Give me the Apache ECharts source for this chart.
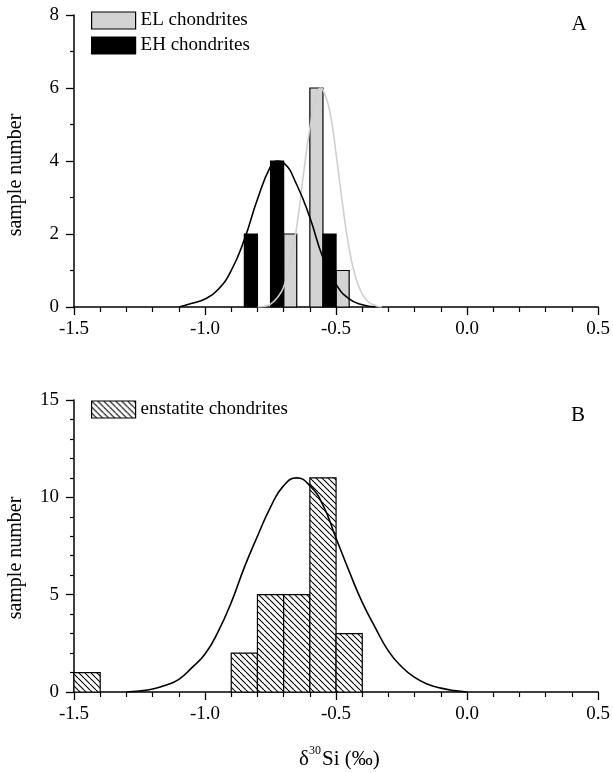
<!DOCTYPE html>
<html>
<head>
<meta charset="utf-8">
<script src="https://cdn.jsdelivr.net/npm/echarts@6/dist/echarts.min.js"></script>
<style>html,body{margin:0;padding:0;background:#fff}#c{width:613px;height:773px}</style>
</head>
<body>
<div id="c"></div>
<script>
// ---- Data ----
const xTicks = [-1.5, -1.0, -0.5, 0.0, 0.5];
// Panel A: EL chondrites histogram (grey)
const elBinStart = [-0.70, -0.60, -0.50];
const elBinEnd   = [-0.65, -0.55, -0.45];
const elCounts   = [2, 6, 1];
// Panel A: EH chondrites histogram (black)
const ehBinStart = [-0.85, -0.75, -0.55];
const ehBinEnd   = [-0.80, -0.70, -0.50];
const ehCounts   = [2, 4, 2];
// Panel A fitted curves
const ehCurveX = [-1.10, -1.05, -1.00, -0.95, -0.90, -0.85, -0.80, -0.75, -0.725, -0.70, -0.65, -0.60, -0.55, -0.50, -0.45, -0.40, -0.35];
const ehCurveY = [0.00, 0.10, 0.22, 0.48, 1.00, 1.85, 2.95, 3.85, 4.00, 3.95, 3.35, 2.45, 1.35, 0.62, 0.22, 0.06, 0.00];
const elCurveX = [-0.80, -0.775, -0.75, -0.725, -0.70, -0.675, -0.65, -0.625, -0.60, -0.575, -0.56, -0.55, -0.525, -0.50, -0.475, -0.45, -0.425, -0.40, -0.375, -0.35, -0.325];
const elCurveY = [0.00, 0.02, 0.08, 0.25, 0.55, 1.20, 2.20, 3.60, 4.90, 5.80, 6.00, 5.95, 5.40, 4.20, 2.80, 1.60, 0.80, 0.35, 0.13, 0.04, 0.00];
// Panel B: enstatite chondrites histogram (hatched)
const ecBinStart = [-1.5, -0.9, -0.8, -0.7, -0.6, -0.5];
const ecBinEnd   = [-1.4, -0.8, -0.7, -0.6, -0.5, -0.4];
const ecCounts   = [1, 2, 5, 5, 11, 3];
const ecCurveX = [-1.30, -1.25, -1.20, -1.15, -1.10, -1.05, -1.00, -0.95, -0.90, -0.85, -0.80, -0.75, -0.70, -0.65, -0.60, -0.55, -0.50, -0.45, -0.40, -0.35, -0.30, -0.25, -0.20, -0.15, -0.10, -0.05, 0.00];
const ecCurveY = [0.00, 0.05, 0.15, 0.35, 0.65, 1.25, 1.95, 3.10, 4.60, 6.40, 8.00, 9.50, 10.60, 11.00, 10.60, 9.60, 7.90, 6.20, 4.60, 3.30, 2.10, 1.30, 0.75, 0.40, 0.20, 0.07, 0.00];

// ---- helpers ----
function bins(s, e, c) { return s.map((v, i) => [v, e[i], c[i]]); }
function pts(xs, ys) { return xs.map((v, i) => [v, ys[i]]); }

function hatch() {
  const s = 6;
  const cv = document.createElement('canvas');
  cv.width = s; cv.height = s;
  const ctx = cv.getContext('2d');
  ctx.fillStyle = '#fff'; ctx.fillRect(0, 0, s, s);
  ctx.strokeStyle = '#000'; ctx.lineWidth = 1.1;
  for (const k of [-1, 0, 1]) {
    ctx.beginPath(); ctx.moveTo(k * s, 0); ctx.lineTo(k * s + s, s); ctx.stroke();
  }
  return { image: cv, repeat: 'repeat' };
}
const hatchFill = hatch();

function barRenderer(fill) {
  return function (params, api) {
    const p0 = api.coord([api.value(0), 0]);
    const p1 = api.coord([api.value(1), api.value(2)]);
    return {
      type: 'rect',
      shape: { x: p0[0], y: p1[1], width: p1[0] - p0[0], height: p0[1] - p1[1] },
      style: { fill: fill, stroke: '#000', lineWidth: 1.2 }
    };
  };
}

const FONT = 'Liberation Serif';
const axisLine = { show: true, onZero: false, lineStyle: { color: '#000', width: 1.5 } };

function xAxisCfg(gi) {
  return {
    type: 'value', gridIndex: gi, min: -1.5, max: 0.5, interval: 0.5,
    axisLine: axisLine,
    axisTick: { show: true, length: 8, lineStyle: { color: '#000', width: 1.3 } },
    minorTick: { show: true, splitNumber: 5, length: 5, lineStyle: { color: '#000', width: 1.2 } },
    splitLine: { show: false },
    axisLabel: { color: '#000', fontFamily: FONT, fontSize: 19, margin: 13,
      formatter: v => (xTicks.indexOf(Math.round(v * 10) / 10) >= 0 ? v.toFixed(1) : '') }
  };
}
function yAxisCfg(gi, max, interval, minorSplit) {
  return {
    type: 'value', gridIndex: gi, min: 0, max: max, interval: interval,
    axisLine: axisLine,
    axisTick: { show: true, length: 8, lineStyle: { color: '#000', width: 1.3 } },
    minorTick: { show: true, splitNumber: minorSplit, length: 4, lineStyle: { color: '#000', width: 1.2 } },
    splitLine: { show: false },
    axisLabel: { color: '#000', fontFamily: FONT, fontSize: 19, margin: 15 }
  };
}

const titleFont = '21px "Liberation Serif"';
const chart = echarts.init(document.getElementById('c'), null, { renderer: 'canvas' });
chart.setOption({
  backgroundColor: '#fff',
  animation: false,
  grid: [
    { left: 74, right: 12, top: 15, height: 292 },
    { left: 74, right: 12, top: 400, height: 292 }
  ],
  xAxis: [xAxisCfg(0), xAxisCfg(1)],
  yAxis: [yAxisCfg(0, 8, 2, 2), yAxisCfg(1, 15, 5, 5)],
  legend: [
    { data: ['EL chondrites', 'EH chondrites'], orient: 'vertical', left: 91, top: 11,
      itemWidth: 44, itemHeight: 17, itemGap: 6, icon: 'rect', padding: 0,
      itemStyle: { borderColor: '#000', borderWidth: 1.2 },
      textStyle: { color: '#000', fontFamily: FONT, fontSize: 19 } },
    { data: ['enstatite chondrites'], orient: 'vertical', left: 91, top: 400,
      itemWidth: 44, itemHeight: 17, icon: 'rect', padding: 0,
      itemStyle: { borderColor: '#000', borderWidth: 1.2 },
      textStyle: { color: '#000', fontFamily: FONT, fontSize: 19 } }
  ],
  graphic: [
    { type: 'text', x: 579, y: 24, style: { text: 'A', font: titleFont, fill: '#000', align: 'center', verticalAlign: 'middle' } },
    { type: 'text', x: 578, y: 415, style: { text: 'B', font: titleFont, fill: '#000', align: 'center', verticalAlign: 'middle' } },
    { type: 'text', x: 16, y: 175, rotation: Math.PI / 2, style: { text: 'sample number', font: '20px "Liberation Serif"', fill: '#000', align: 'center', verticalAlign: 'middle' } },
    { type: 'text', x: 16, y: 558, rotation: Math.PI / 2, style: { text: 'sample number', font: '20px "Liberation Serif"', fill: '#000', align: 'center', verticalAlign: 'middle' } },
    { type: 'text', x: 309, y: 759, style: { text: 'δ', font: titleFont, fill: '#000', align: 'right', verticalAlign: 'middle' } },
    { type: 'text', x: 309, y: 751, style: { text: '30', font: '12px "Liberation Serif"', fill: '#000', align: 'left', verticalAlign: 'middle' } },
    { type: 'text', x: 322, y: 759, style: { text: 'Si (‰)', font: titleFont, fill: '#000', align: 'left', verticalAlign: 'middle' } }
  ],
  series: [
    { name: 'EL chondrites', type: 'custom', xAxisIndex: 0, yAxisIndex: 0,
      renderItem: barRenderer('#d3d3d3'), encode: { x: [0, 1], y: 2 },
      itemStyle: { color: '#d3d3d3', borderColor: '#000', borderWidth: 1.2 },
      data: bins(elBinStart, elBinEnd, elCounts), z: 2 },
    { name: 'EH chondrites', type: 'custom', xAxisIndex: 0, yAxisIndex: 0,
      renderItem: barRenderer('#000'), encode: { x: [0, 1], y: 2 },
      itemStyle: { color: '#000', borderColor: '#000', borderWidth: 1.2 },
      data: bins(ehBinStart, ehBinEnd, ehCounts), z: 2 },
    { name: 'EL fit', type: 'line', xAxisIndex: 0, yAxisIndex: 0, smooth: 0.5, showSymbol: false,
      lineStyle: { color: '#cfcfcf', width: 1.6 }, data: pts(elCurveX, elCurveY), z: 3 },
    { name: 'EH fit', type: 'line', xAxisIndex: 0, yAxisIndex: 0, smooth: 0.5, showSymbol: false,
      lineStyle: { color: '#000', width: 1.6 }, data: pts(ehCurveX, ehCurveY), z: 4 },
    { name: 'enstatite chondrites', type: 'custom', xAxisIndex: 1, yAxisIndex: 1,
      renderItem: barRenderer(hatchFill), encode: { x: [0, 1], y: 2 },
      itemStyle: { color: hatchFill, borderColor: '#000', borderWidth: 1.2 },
      data: bins(ecBinStart, ecBinEnd, ecCounts), z: 2 },
    { name: 'EC fit', type: 'line', xAxisIndex: 1, yAxisIndex: 1, smooth: 0.5, showSymbol: false,
      lineStyle: { color: '#000', width: 1.6 }, data: pts(ecCurveX, ecCurveY), z: 4 }
  ]
});
</script>
</body>
</html>
